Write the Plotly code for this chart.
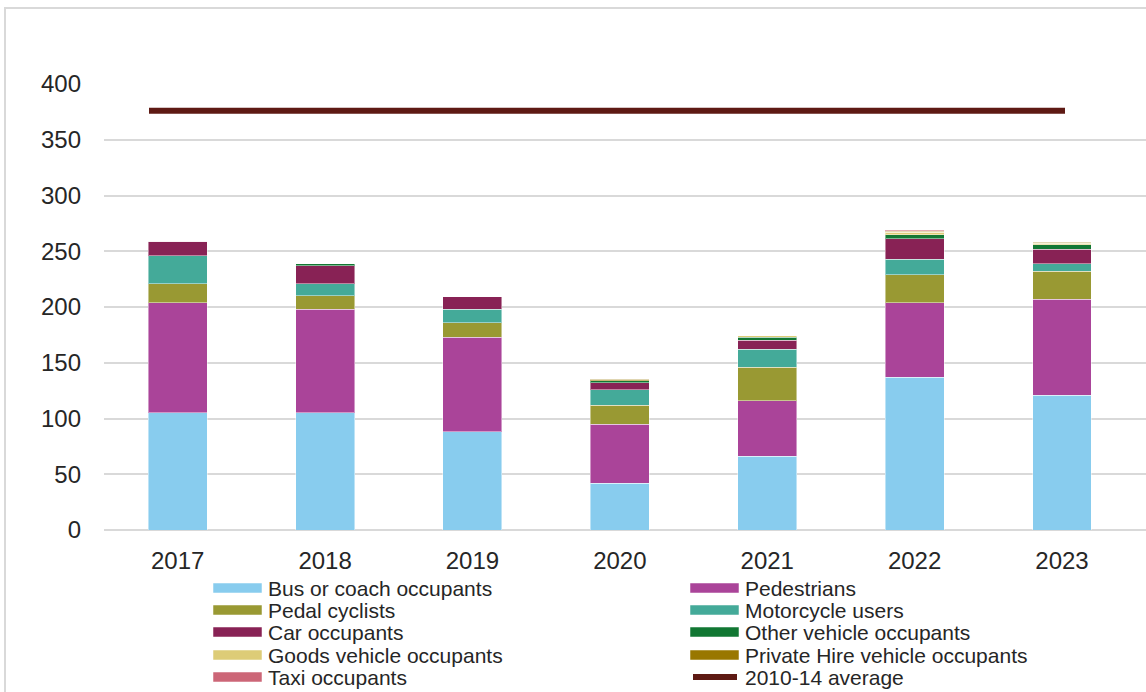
import plotly.graph_objects as go

# Casualties by road user type, 2017-2023
years = ["2017", "2018", "2019", "2020", "2021", "2022", "2023"]

bus_coach = [105, 105, 88, 42, 66, 137, 121]
pedestrians = [99, 93, 85, 53, 50, 67, 86]
pedal_cyclists = [17, 12, 13, 17, 30, 25, 25]
motorcycle_users = [25, 11, 12, 14, 16, 14, 7]
car_occupants = [13, 16, 11, 6, 8, 18, 13]
other_vehicle = [0, 2, 0, 2, 3, 4, 4]
goods_vehicle = [0, 0, 0, 0, 1, 2, 1]
private_hire = [0, 0, 0, 1, 0, 1, 1]
taxi = [0, 0, 0, 0, 0, 1, 0]

average_2010_14 = 376

series = [
    ("Bus or coach occupants", bus_coach, "#88CCEE"),
    ("Pedestrians", pedestrians, "#AA4499"),
    ("Pedal cyclists", pedal_cyclists, "#999933"),
    ("Motorcycle users", motorcycle_users, "#44AA99"),
    ("Car occupants", car_occupants, "#882255"),
    ("Other vehicle occupants", other_vehicle, "#117733"),
    ("Goods vehicle occupants", goods_vehicle, "#DDCC77"),
    ("Private Hire vehicle occupants", private_hire, "#997700"),
    ("Taxi occupants", taxi, "#CC6677"),
]
avg_name = "2010-14 average"
avg_color = "#5E1A14"

# figure geometry (pixels)
W, H = 1146, 692
ML, MR, MT, MB = 104, 0, 84, 162
PW, PH = W - ML - MR, H - MT - MB


def px_x(px):
    return (px - ML) / PW


def px_y(py):
    return (H - MB - py) / PH


fig = go.Figure()

for name, vals, color in series:
    fig.add_trace(go.Bar(
        x=years, y=vals, name=name,
        marker=dict(color=color, line=dict(color="rgba(255,255,255,0.45)", width=1)),
        width=0.4, showlegend=False,
    ))

fig.add_trace(go.Scatter(
    x=years, y=[average_2010_14] * len(years), name=avg_name,
    mode="lines", line=dict(color=avg_color, width=6),
    xaxis="x2", showlegend=False,
))

font_family = "Liberation Sans, Arial, sans-serif"
text_color = "#262626"

# legend drawn as two columns beneath the axis
entries = [(n, c, "bar") for n, _, c in series] + [(avg_name, avg_color, "line")]
col_sym_x = [213, 690]
row_y = [588, 610, 632, 655, 677]
shapes = []
annotations = []
for i, (name, color, kind) in enumerate(entries):
    col, row = i % 2, i // 2
    x0 = col_sym_x[col]
    yc = row_y[row]
    if kind == "bar":
        shapes.append(dict(
            type="rect", xref="paper", yref="paper",
            x0=px_x(x0), x1=px_x(x0 + 49), y0=px_y(yc + 5), y1=px_y(yc - 5),
            fillcolor=color, line=dict(color="rgba(255,255,255,0.5)", width=1),
        ))
    else:
        shapes.append(dict(
            type="line", xref="paper", yref="paper",
            x0=px_x(x0 + 3), x1=px_x(x0 + 47), y0=px_y(yc), y1=px_y(yc),
            line=dict(color=color, width=6),
        ))
    annotations.append(dict(
        text=name, xref="paper", yref="paper", x=px_x(x0 + 53), y=px_y(yc),
        xanchor="left", yanchor="middle", showarrow=False,
        font=dict(family=font_family, size=21, color=text_color),
    ))

# outer chart frame
shapes.append(dict(
    type="rect", xref="paper", yref="paper",
    x0=px_x(5), x1=px_x(W + 20), y0=px_y(H + 20), y1=px_y(8),
    line=dict(color="#D9D9D9", width=2), fillcolor="rgba(0,0,0,0)", layer="below",
))

line_start, line_end = 149, 1065
unit = (line_end - line_start) / (len(years) - 1)
x2_lo = (ML - line_start) / unit
x2_hi = x2_lo + PW / unit

fig.update_layout(
    width=W, height=H,
    margin=dict(l=ML, r=MR, t=MT, b=MB),
    paper_bgcolor="white", plot_bgcolor="white",
    barmode="stack",
    font=dict(family=font_family, color=text_color),
    xaxis=dict(
        type="category", range=[-0.5, 6.57],
        showgrid=False, showline=False, zeroline=False,
        ticks="", tickfont=dict(size=24, color=text_color),
        ticklabelstandoff=14,
    ),
    xaxis2=dict(
        type="category", overlaying="x", range=[x2_lo, x2_hi],
        visible=False,
    ),
    yaxis=dict(
        range=[0, 400], dtick=50,
        showgrid=True, gridcolor="#D9D9D9", gridwidth=1.5,
        zeroline=True, zerolinecolor="#D9D9D9", zerolinewidth=1.5,
        showline=False, ticks="",
        tickfont=dict(size=24, color=text_color),
        ticklabelstandoff=22,
    ),
    shapes=shapes,
    annotations=annotations,
    showlegend=False,
)

fig.write_html("out.html")
